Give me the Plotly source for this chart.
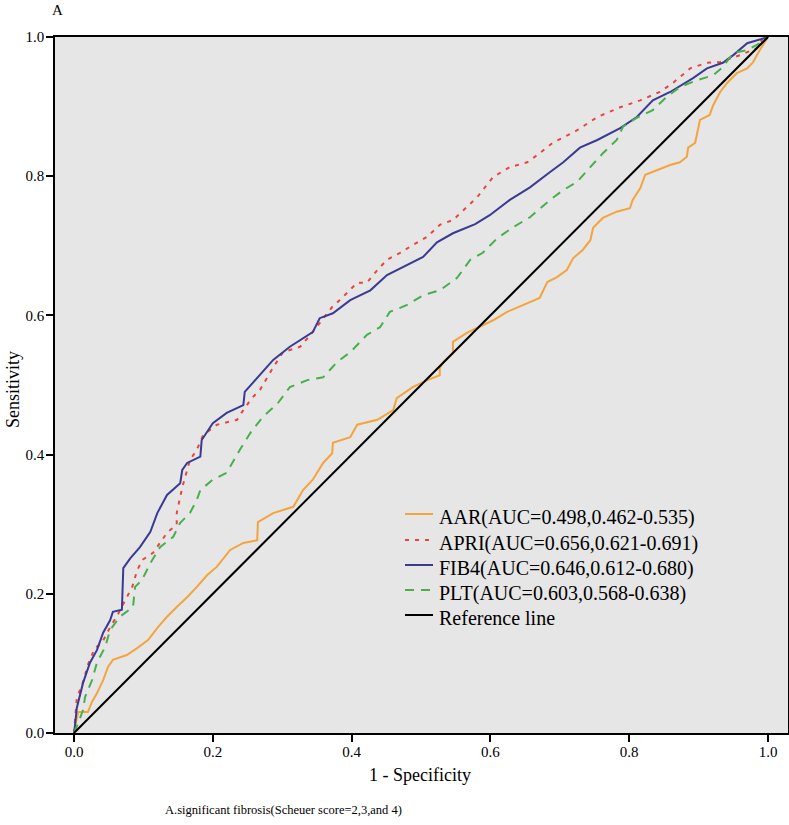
import plotly.graph_objects as go

# ---- data ----
fib4_x = [0, 0.001, 0.004, 0.009, 0.013, 0.023, 0.033, 0.042, 0.052, 0.056, 0.069, 0.071, 0.081, 0.095,
          0.110, 0.120, 0.134, 0.153, 0.156, 0.163, 0.182, 0.184, 0.200, 0.220, 0.244, 0.246, 0.261, 0.287,
          0.311, 0.344, 0.354, 0.373, 0.398, 0.427, 0.451, 0.474, 0.503, 0.523, 0.546, 0.578, 0.599, 0.628,
          0.657, 0.686, 0.705, 0.729, 0.754, 0.787, 0.811, 0.834, 0.859, 0.892, 0.912, 0.935, 0.950, 0.970,
          0.988, 1.0]
fib4_y = [0, 0.007, 0.036, 0.055, 0.072, 0.101, 0.119, 0.144, 0.162, 0.174, 0.177, 0.237, 0.251, 0.267,
          0.289, 0.316, 0.342, 0.359, 0.378, 0.388, 0.397, 0.421, 0.445, 0.460, 0.471, 0.490, 0.507, 0.536,
          0.555, 0.576, 0.596, 0.603, 0.622, 0.636, 0.658, 0.670, 0.684, 0.705, 0.718, 0.731, 0.744, 0.766,
          0.784, 0.806, 0.820, 0.841, 0.852, 0.869, 0.885, 0.909, 0.921, 0.941, 0.955, 0.963, 0.974, 0.991,
          0.996, 1.0]

apri_x = [0, 0.004, 0.013, 0.020, 0.030, 0.040, 0.052, 0.063, 0.076, 0.084, 0.091, 0.099, 0.114, 0.124,
          0.135, 0.148, 0.148, 0.156, 0.160, 0.167, 0.177, 0.186, 0.206, 0.235, 0.242, 0.256, 0.268, 0.285,
          0.301, 0.326, 0.343, 0.357, 0.372, 0.383, 0.408, 0.422, 0.437, 0.451, 0.470, 0.488, 0.509, 0.527,
          0.546, 0.561, 0.581, 0.604, 0.628, 0.653, 0.667, 0.690, 0.725, 0.754, 0.787, 0.816, 0.844, 0.863,
          0.888, 0.912, 0.931, 0.960, 0.984, 0.993, 1.0]
apri_y = [0, 0.050, 0.073, 0.098, 0.122, 0.129, 0.152, 0.170, 0.195, 0.210, 0.234, 0.249, 0.259, 0.273,
          0.289, 0.299, 0.316, 0.353, 0.368, 0.392, 0.407, 0.428, 0.443, 0.450, 0.461, 0.481, 0.493, 0.522,
          0.547, 0.555, 0.575, 0.593, 0.612, 0.622, 0.647, 0.647, 0.665, 0.680, 0.690, 0.701, 0.713, 0.730,
          0.737, 0.751, 0.770, 0.799, 0.813, 0.820, 0.830, 0.848, 0.866, 0.885, 0.899, 0.909, 0.921, 0.934,
          0.955, 0.963, 0.964, 0.974, 0.984, 0.999, 1.0]

plt_x = [0, 0.004, 0.013, 0.016, 0.026, 0.033, 0.045, 0.052, 0.066, 0.085, 0.088, 0.098, 0.110, 0.124,
         0.143, 0.153, 0.167, 0.177, 0.182, 0.200, 0.220, 0.228, 0.239, 0.254, 0.272, 0.293, 0.311, 0.336,
         0.359, 0.379, 0.398, 0.422, 0.441, 0.455, 0.480, 0.503, 0.527, 0.552, 0.571, 0.589, 0.610, 0.633,
         0.657, 0.686, 0.705, 0.725, 0.744, 0.762, 0.782, 0.791, 0.811, 0.834, 0.854, 0.873, 0.898, 0.921,
         0.935, 0.950, 0.970, 0.988, 1.0]
plt_y = [0, 0.009, 0.033, 0.052, 0.076, 0.101, 0.124, 0.148, 0.167, 0.181, 0.210, 0.220, 0.244, 0.267,
         0.282, 0.302, 0.316, 0.335, 0.349, 0.364, 0.374, 0.388, 0.407, 0.431, 0.454, 0.473, 0.497, 0.507,
         0.511, 0.533, 0.547, 0.572, 0.583, 0.605, 0.615, 0.629, 0.636, 0.654, 0.680, 0.690, 0.711, 0.727,
         0.741, 0.766, 0.780, 0.792, 0.813, 0.833, 0.852, 0.871, 0.884, 0.895, 0.914, 0.928, 0.938, 0.945,
         0.957, 0.977, 0.981, 0.991, 1.0]

aar_x = [0, 0.001, 0.006, 0.020, 0.026, 0.033, 0.042, 0.049, 0.056, 0.076, 0.091, 0.107, 0.121, 0.134,
         0.148, 0.163, 0.177, 0.192, 0.206, 0.225, 0.244, 0.264, 0.265, 0.287, 0.316, 0.330, 0.344, 0.359,
         0.372, 0.373, 0.398, 0.408, 0.437, 0.460, 0.465, 0.488, 0.509, 0.527, 0.527, 0.532, 0.546, 0.546,
         0.566, 0.581, 0.604, 0.624, 0.653, 0.671, 0.682, 0.696, 0.710, 0.719, 0.733, 0.744, 0.748, 0.762,
         0.782, 0.801, 0.805, 0.816, 0.823, 0.840, 0.859, 0.873, 0.883, 0.885, 0.895, 0.898, 0.902, 0.916,
         0.921, 0.931, 0.941, 0.955, 0.970, 0.978, 0.988, 1.0]
aar_y = [0, 0.007, 0.030, 0.030, 0.045, 0.057, 0.076, 0.095, 0.105, 0.112, 0.122, 0.134, 0.152, 0.167,
         0.181, 0.195, 0.210, 0.227, 0.239, 0.263, 0.273, 0.277, 0.303, 0.316, 0.325, 0.349, 0.364, 0.388,
         0.402, 0.417, 0.425, 0.443, 0.450, 0.464, 0.481, 0.497, 0.507, 0.514, 0.524, 0.533, 0.546, 0.562,
         0.575, 0.582, 0.593, 0.605, 0.618, 0.625, 0.648, 0.655, 0.665, 0.682, 0.694, 0.708, 0.726, 0.740,
         0.749, 0.754, 0.766, 0.783, 0.802, 0.809, 0.816, 0.820, 0.828, 0.841, 0.848, 0.862, 0.881, 0.888,
         0.902, 0.921, 0.934, 0.948, 0.955, 0.963, 0.981, 1.0]

ref_x = [0, 1]
ref_y = [0, 1]

names = ["AAR(AUC=0.498,0.462-0.535)", "APRI(AUC=0.656,0.621-0.691)",
         "FIB4(AUC=0.646,0.612-0.680)", "PLT(AUC=0.603,0.568-0.638)", "Reference line"]
tick_vals = [0, 0.2, 0.4, 0.6, 0.8, 1.0]
tick_text = ["0.0", "0.2", "0.4", "0.6", "0.8", "1.0"]

FONT = "Liberation Serif"
W, H = 789, 825
ML, MR, MT, MB = 55, 1, 37, 92
PW, PH = W - ML - MR, H - MT - MB


def px2paper(px, py):
    return (px - ML) / PW, (H - MB - py) / PH


styles = [
    dict(color="#F4A43C", width=2),
    dict(color="#E8453C", width=2, dash="4px,6px"),
    dict(color="#3A3A94", width=2),
    dict(color="#46B04C", width=2, dash="9px,7px"),
    dict(color="#000000", width=2),
]
series = [(aar_x, aar_y), (apri_x, apri_y), (fib4_x, fib4_y), (plt_x, plt_y), (ref_x, ref_y)]

fig = go.Figure()
for (sx, sy), nm, st in zip(series, names, styles):
    fig.add_trace(go.Scatter(x=sx, y=sy, mode="lines", name=nm, line=st, showlegend=False,
                             hoverinfo="skip"))

axis_common = dict(showgrid=False, zeroline=False, showline=True, linecolor="black",
                   linewidth=1.5, mirror=True, ticks="outside", ticklen=7, tickwidth=1.5,
                   tickcolor="black", tickvals=tick_vals, ticktext=tick_text, automargin=False,
                   tickfont=dict(family=FONT, size=15, color="black"))

fig.update_layout(
    width=W, height=H,
    margin=dict(l=ML, r=MR, t=MT, b=MB),
    paper_bgcolor="white", plot_bgcolor="#E6E6E6",
    font=dict(family=FONT, color="black"),
    xaxis=dict(range=[-0.0274, 1.0288], ticklabelstandoff=-3, **axis_common),
    yaxis=dict(range=[0, 1], ticklabelstandoff=-1, **axis_common),
    showlegend=False,
)

# manual legend (sample line + label)
legend_rows_py = [514, 540, 565, 590, 615]
for nm, st, py in zip(names, styles, legend_rows_py):
    x0, y0 = px2paper(405, py)
    x1, _ = px2paper(433, py)
    fig.add_shape(type="line", xref="paper", yref="paper", x0=x0, x1=x1, y0=y0, y1=y0,
                  line=st)
    tx, ty = px2paper(437, py + 3)
    fig.add_annotation(text=nm, xref="paper", yref="paper", x=tx, y=ty, xanchor="left",
                       yanchor="middle", showarrow=False,
                       font=dict(family=FONT, size=20, color="black"))

# titles
ax, ay = px2paper(420, 775)
fig.add_annotation(text="1 - Specificity", xref="paper", yref="paper", x=ax, y=ay,
                   xanchor="center", yanchor="middle", showarrow=False,
                   font=dict(family=FONT, size=18, color="black"))
sx_, sy_ = px2paper(13, 390)
fig.add_annotation(text="Sensitivity", xref="paper", yref="paper", x=sx_, y=sy_, textangle=-90,
                   xanchor="center", yanchor="middle", showarrow=False,
                   font=dict(family=FONT, size=18, color="black"))
axx, ayy = px2paper(57, 10)
fig.add_annotation(text="A", xref="paper", yref="paper", x=axx, y=ayy,
                   xanchor="center", yanchor="middle", showarrow=False,
                   font=dict(family=FONT, size=15, color="black"))
cx, cy = px2paper(163, 810)
fig.add_annotation(text="A.significant fibrosis(Scheuer score=2,3,and 4)", xref="paper", yref="paper",
                   x=cx, y=cy, xanchor="left", yanchor="middle", showarrow=False,
                   font=dict(family=FONT, size=12.5, color="black"))

fig.write_html("out.html", config={"displayModeBar": False},
               post_script="document.body.style.margin='0';document.body.style.padding='0';")
